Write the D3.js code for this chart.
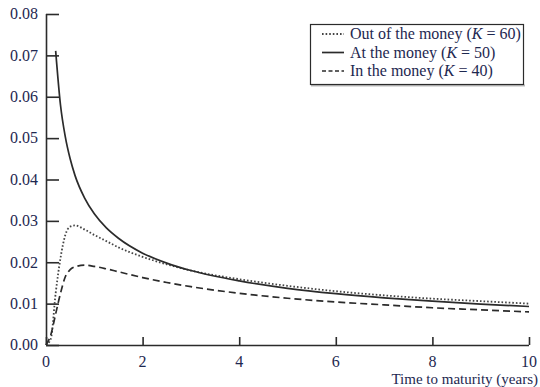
<!DOCTYPE html>
<html>
<head>
<meta charset="utf-8">
<script src="https://cdn.jsdelivr.net/npm/d3@7/dist/d3.min.js"></script>
<style>
  html, body { margin: 0; padding: 0; background: #fff; }
  svg { display: block; }
  .tick-label { font-family: "Liberation Serif", "Times New Roman", serif; fill: #1e2850; }
</style>
</head>
<body>
<svg id="chart" width="540" height="387"></svg>
<script>
// Gamma of a stock option against time to maturity (years)
const maturities = [0, 0.1, 0.2, 0.3, 0.4, 0.5, 0.6, 0.8, 1, 1.25, 1.5, 2, 2.5, 3, 4, 5, 6, 7, 8, 9, 10];
const outOfMoney = [0, 0.0015, 0.0125, 0.0210, 0.0266, 0.0286, 0.0289, 0.0279, 0.0266, 0.0251, 0.0236, 0.0213, 0.0195, 0.0180, 0.0159, 0.0143, 0.0130, 0.0120, 0.0112, 0.0106, 0.0100];
const atMoney    = [null, null, 0.0711, 0.0580, 0.0503, 0.0450, 0.0410, 0.0355, 0.0317, 0.0283, 0.0258, 0.0222, 0.0198, 0.0180, 0.0155, 0.0137, 0.0124, 0.0114, 0.0106, 0.0099, 0.0093];
const inMoney    = [0, 0.0025, 0.0075, 0.0125, 0.0165, 0.0182, 0.0189, 0.0193, 0.0190, 0.0184, 0.0177, 0.0163, 0.0151, 0.0141, 0.0125, 0.0113, 0.0104, 0.0097, 0.0090, 0.0085, 0.0080];

const xTicks = [0, 2, 4, 6, 8, 10];
const yTicks = [0, 0.01, 0.02, 0.03, 0.04, 0.05, 0.06, 0.07, 0.08];
const seriesNames = ["Out of the money", "At the money", "In the money"];
const strikes = [60, 50, 40];
const xTitle = "Time to maturity (years)";

const svg = d3.select("#chart");
const x = d3.scaleLinear().domain([0, 10]).range([46, 529]);
const y = d3.scaleLinear().domain([0, 0.08]).range([345, 14]);

const ink = "#2b2b2b";
const serif = "'Liberation Serif', 'Times New Roman', serif";

// y axis: ticks point into the plot
const yAxis = d3.axisRight(y).tickValues(yTicks).tickSize(13).tickFormat("");
const gy = svg.append("g").attr("transform", `translate(${x(0)},0)`).call(yAxis);
gy.select(".domain").attr("stroke", ink).attr("stroke-width", 1.6).attr("d", `M0.5,${y(0.08)}V${y(0)}`);
gy.selectAll(".tick line").attr("stroke", ink).attr("stroke-width", 1.6);
svg.append("g").selectAll("text").data(yTicks).join("text")
  .attr("class", "tick-label")
  .attr("x", 38).attr("y", d => y(d)).attr("dy", "0.33em")
  .attr("text-anchor", "end").attr("font-size", 16)
  .text(d => d3.format(".2f")(d));

// x axis: ticks point upward
const xAxis = d3.axisTop(x).tickValues(xTicks).tickSize(8).tickFormat("");
const gx = svg.append("g").attr("transform", `translate(0,${y(0)})`).call(xAxis);
gx.select(".domain").attr("stroke", ink).attr("stroke-width", 1.6).attr("d", `M${x(0)},0.5H${x(10)}`);
gx.selectAll(".tick line").attr("stroke", ink).attr("stroke-width", 1.6);
svg.append("g").selectAll("text").data(xTicks).join("text")
  .attr("class", "tick-label")
  .attr("x", d => x(d)).attr("y", 367)
  .attr("text-anchor", "middle").attr("font-size", 16)
  .text(d => d);

svg.append("text")
  .attr("class", "tick-label")
  .attr("x", 538).attr("y", 384)
  .attr("text-anchor", "end").attr("font-size", 15)
  .text(xTitle);

// curves
const styles = [
  { dash: "1.6,2", width: 1.8, color: "#444" },
  { dash: null, width: 1.7, color: "#2b2b2b" },
  { dash: "7,4", width: 1.7, color: "#2b2b2b" }
];
const series = [outOfMoney, atMoney, inMoney];

const line = d3.line()
  .defined(d => d[1] !== null)
  .x(d => x(d[0]))
  .y(d => y(d[1]))
  .curve(d3.curveMonotoneX);

series.forEach((vals, i) => {
  svg.append("path")
    .datum(maturities.map((t, j) => [t, vals[j]]))
    .attr("fill", "none")
    .attr("stroke", styles[i].color)
    .attr("stroke-width", styles[i].width)
    .attr("stroke-dasharray", styles[i].dash)
    .attr("d", line);
});

// legend
const lg = svg.append("g");
lg.append("line").attr("x1", 311).attr("x2", 525).attr("y1", 85.5).attr("y2", 85.5)
  .attr("stroke", "#bbb").attr("stroke-width", 2);
lg.append("rect").attr("x", 310.5).attr("y", 24.5).attr("width", 213).attr("height", 60)
  .attr("fill", "#fff").attr("stroke", ink).attr("stroke-width", 1.2);
const rowY = [34, 52.5, 71];
seriesNames.forEach((name, i) => {
  lg.append("line")
    .attr("x1", 322).attr("x2", 344).attr("y1", rowY[i]).attr("y2", rowY[i])
    .attr("stroke", styles[i].color).attr("stroke-width", styles[i].width)
    .attr("stroke-dasharray", styles[i].dash === "7,4" ? "4,2.5" : styles[i].dash);
  const t = lg.append("text")
    .attr("x", 350).attr("y", rowY[i]).attr("dy", "0.33em")
    .attr("font-family", serif).attr("font-size", 16).attr("fill", "#1e2850");
  t.append("tspan").text(name + " (");
  t.append("tspan").attr("font-style", "italic").text("K");
  t.append("tspan").text(" = " + strikes[i] + ")");
});
</script>
</body>
</html>
